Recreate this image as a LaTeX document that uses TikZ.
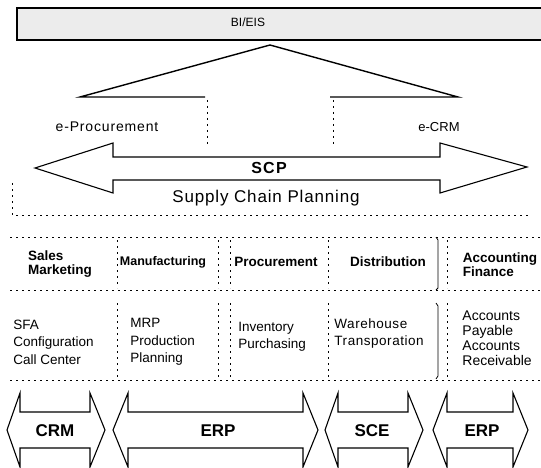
\documentclass[tikz,border=0pt]{standalone}
\usepackage{fontspec}
\setmainfont{Liberation Sans}
\begin{document}
\begin{tikzpicture}[x=1pt,y=-1pt,line width=0.9pt,
  lbl/.style={font=\fontsize{13.5}{14}\selectfont\bfseries,align=left,inner sep=0pt},
  item/.style={font=\fontsize{13.5}{17.5}\selectfont,align=left,inner sep=0pt,anchor=west},
  sep/.style={dash pattern=on 2pt off 4pt,line width=0.7pt},
  fat/.style={line width=1.1pt,line join=miter},
  big/.style={font=\fontsize{17}{18}\selectfont\bfseries,inner sep=0pt}]
\useasboundingbox (0,0) rectangle (541,468);
% top bar
\draw[line width=2.5pt,fill=gray!15] (17,8) rectangle (548,40);
\node[font=\fontsize{12}{13}\selectfont,inner sep=0pt] (top) at (248,22) {BI/EIS};
% roof
\draw[fat,line width=1.4pt] (205,97) -- (80,97) -- (270,45) -- (458,97) -- (330,97);
\coordinate (r1a) at (207,100); \coordinate (r1b) at (207,145);
\coordinate (r2a) at (333,100); \coordinate (r2b) at (333,145);
\draw[sep] (r1a) -- (r1b);
\draw[sep] (r2a) -- (r2b);
\node[font=\fontsize{14}{15}\selectfont\addfontfeature{LetterSpace=6},inner sep=0pt] (eproc) at (107,127) {e-Procurement};
\node[font=\fontsize{13}{14}\selectfont,inner sep=0pt] (ecrm) at (439,127) {e-CRM};
% SCP arrow
\draw[fat] (35,168) -- (113,143) -- (113,157) -- (440,157) -- (440,143) -- (527,167)
  -- (440,193) -- (440,180) -- (113,180) -- (113,193) -- cycle;
\node[font=\fontsize{16}{17}\selectfont\bfseries\addfontfeature{LetterSpace=8},inner sep=0pt] (scp) at (269,168) {SCP};
\node[font=\fontsize{17}{18}\selectfont\addfontfeature{LetterSpace=5},inner sep=0pt] (supply) at (266,198) {Supply\ Chain\ Planning};
% frame lines
\draw[sep] (12,183) -- (12,215) -- (530,215);
\draw[sep] (10,237) -- (540,237);
\draw[sep] (10,290) -- (540,290);
\draw[sep] (10,380) -- (540,380);
% column separators
\foreach \x in {117,218,230,328,447}{\draw[sep] (\x,240) -- (\x,288); \draw[sep] (\x,303) -- (\x,378);}
\draw[line width=0.8pt] (436,237) -- (438,240) -- (438,288) -- (436,290);
\draw[line width=0.8pt] (436,303) -- (438,306) -- (438,376) -- (436,379);
% function row
\node[lbl] (sales) at (60,264) {Sales\\Marketing};
\node[lbl,font=\fontsize{12.5}{13}\selectfont\bfseries] (manu) at (163,262) {Manufacturing};
\node[lbl] (proc) at (276,262) {Procurement};
\node[lbl] (dist) at (388,262) {Distribution};
\node[lbl] (acct) at (500,265) {Accounting\\Finance};
% item row
\node[item] (sfa) at (13,342) {SFA\\Configuration\\Call Center};
\node[item] (mrp) at (130,342) {MRP\\Production\\Planning};
\node[item] (inv) at (238,337) {Inventory\\Purchasing};
\node[item,font=\fontsize{13.5}{17}\selectfont\addfontfeature{LetterSpace=4}] (ware) at (334,334) {Warehouse\\Transporation};
\node[item,font=\fontsize{14}{15}\selectfont] (ap) at (462,338) {Accounts\\Payable\\Accounts\\Receivable};
% bottom arrows
\newcommand{\dblarr}[4]{\draw[fat] (#1,430) -- (#2,393) -- (#2,412) -- (#3,412) -- (#3,393) -- (#4,430) -- (#3,467) -- (#3,448) -- (#2,448) -- (#2,467) -- cycle;}
\dblarr{7}{20}{90}{105}
\dblarr{113}{128}{303}{318}
\dblarr{325}{338}{408}{423}
\dblarr{433}{447}{513}{528}
\node[big] (b1) at (55,431) {CRM};
\node[big] (b2) at (218,431) {ERP};
\node[big] (b3) at (372,431) {SCE};
\node[big] (b4) at (482,431) {ERP};
\end{tikzpicture}
\end{document}
